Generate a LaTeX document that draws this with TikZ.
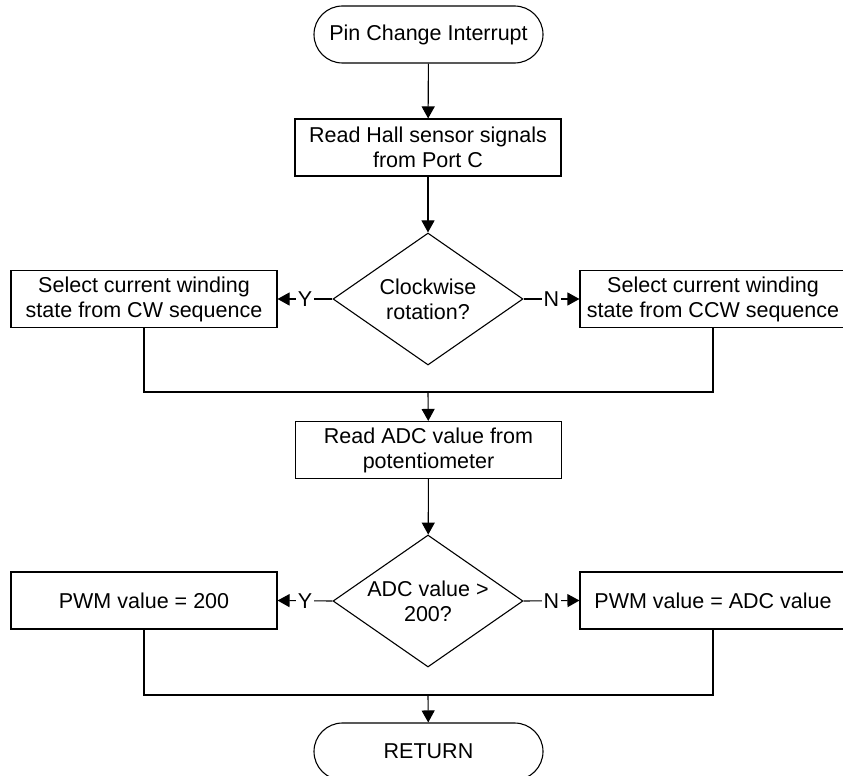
\documentclass[tikz,border=0pt]{standalone}
\usepackage{fontspec}
\setmainfont{Liberation Sans}
\usetikzlibrary{shapes.geometric,arrows.meta}
\begin{document}
\begin{tikzpicture}[x=1pt,y=-1pt,
  every node/.style={font=\fontsize{21.5}{25}\selectfont},
  procbox/.style={draw, line width=1.1pt, minimum width=266pt, minimum height=57pt, inner sep=0pt, align=center},
  term/.style={draw, line width=1.1pt, rounded corners=28.5pt, minimum width=229pt, minimum height=57pt, inner sep=0pt},
  decision/.style={draw, line width=1.1pt, diamond, aspect=1.44, minimum width=190pt, minimum height=132pt, inner sep=0pt, align=center},
  flow/.style={draw, line width=1.1pt, -{Triangle[length=12pt,width=13pt]}},
  joinline/.style={draw, line width=1.1pt},
  lbl/.style={fill=white, inner sep=1.5pt}
]
\useasboundingbox (0,0) rectangle (843,776);
\clip (0,0) rectangle (843,776);

\node[term] (start) at (428.5,34.5) {Pin Change Interrupt};
\node[procbox] (read) at (428,147.5) {Read Hall sensor signals\\from Port C};
\node[decision] (dec1) at (428,299) {Clockwise\\rotation?};
\node[procbox] (cw) at (144,299) {Select current winding\\state from CW sequence};
\node[procbox] (ccw) at (713,299) {Select current winding\\state from CCW sequence};
\coordinate (m1) at (428,392);
\node[procbox] (adc) at (428.5,450) {Read ADC value from\\potentiometer};
\node[decision] (dec2) at (428,601) {ADC value >\\200?};
\node[procbox] (p200) at (144,600.5) {PWM value = 200};
\node[procbox] (padc) at (713,600.5) {PWM value = ADC value};
\coordinate (m2) at (428,695);
\node[term] (ret) at (428.5,751.5) {RETURN};

\draw[flow] (start) -- (read);
\draw[flow] (read) -- (dec1);
\draw[flow] (dec1.west) -- node[lbl]{Y} (cw.east);
\draw[flow] (dec1.east) -- node[lbl]{N} (ccw.west);
\draw[joinline] (cw.south) |- (m1) -| (ccw.south);
\draw[flow] (m1) -- (adc);
\draw[flow] (adc) -- (dec2);
\draw[flow] (dec2.west) -- node[lbl]{Y} (p200.east);
\draw[flow] (dec2.east) -- node[lbl]{N} (padc.west);
\draw[joinline] (p200.south) |- (m2) -| (padc.south);
\draw[flow] (m2) -- (ret);
\end{tikzpicture}
\end{document}
